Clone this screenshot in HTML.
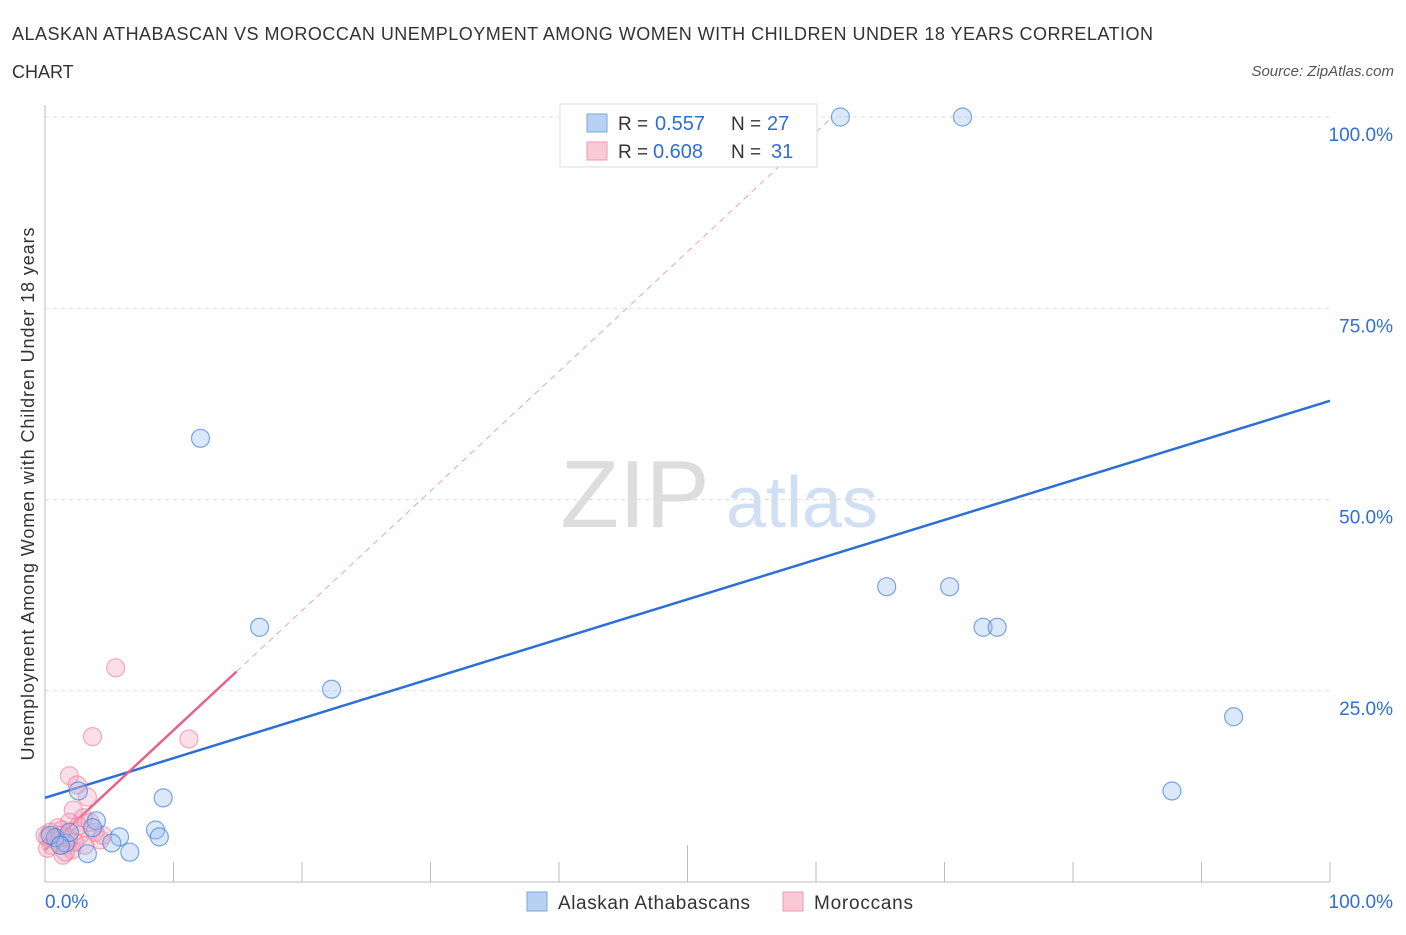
<!DOCTYPE html>
<html><head><meta charset="utf-8"><style>
body{margin:0;background:#fff;font-family:"Liberation Sans",sans-serif;}
svg text{font-family:"Liberation Sans",sans-serif;}
</style></head><body>
<svg width="1406" height="930" viewBox="0 0 1406 930">
<text x="12" y="40" font-size="18" fill="#333" textLength="1141" lengthAdjust="spacing">ALASKAN ATHABASCAN VS MOROCCAN UNEMPLOYMENT AMONG WOMEN WITH CHILDREN UNDER 18 YEARS CORRELATION</text>
<text x="12" y="78" font-size="18" fill="#333">CHART</text>
<text x="1394" y="76" font-size="15" fill="#555" font-style="italic" text-anchor="end">Source: ZipAtlas.com</text>
<g>
<text x="635" y="527" font-size="96" fill="#ddd" font-family="Liberation Serif" text-anchor="middle">ZIP</text>
<text x="802" y="527" font-size="72" fill="#d0dff3" text-anchor="middle">atlas</text>
</g>
<g id="grid"></g>
<g id="axes"></g>
<text transform="translate(34,494) rotate(-90)" font-size="18" fill="#333" textLength="533" lengthAdjust="spacing" text-anchor="middle">Unemployment Among Women with Children Under 18 years</text>
<g id="lines"></g>
<g id="points"></g>
<g>
<rect x="560" y="104" width="257" height="63" fill="#fff" stroke="#ddd"/>
<rect x="587" y="114" width="20" height="18" fill="#b8d1f3" stroke="#7aa6e3"/>
<rect x="587" y="142" width="20" height="18" fill="#f9c9d6" stroke="#ee9ab3"/>
<text x="618" y="130" font-size="19" fill="#333">R =</text>
<text x="655" y="130" font-size="20" fill="#2e6fd6">0.557</text>
<text x="731" y="130" font-size="19" fill="#333">N =</text>
<text x="767" y="130" font-size="20" fill="#2e6fd6">27</text>
<text x="618" y="158" font-size="19" fill="#333">R =</text>
<text x="653" y="158" font-size="20" fill="#2e6fd6">0.608</text>
<text x="731" y="158" font-size="19" fill="#333">N =</text>
<text x="771" y="158" font-size="20" fill="#2e6fd6">31</text>
</g>
<g>
<rect x="527" y="892" width="20" height="19" fill="#b8d1f3" stroke="#7aa6e3"/>
<text x="558" y="909" font-size="19" fill="#333" textLength="192">Alaskan Athabascans</text>
<rect x="783" y="892" width="20" height="19" fill="#f9c9d6" stroke="#ee9ab3"/>
<text x="814" y="909" font-size="19" fill="#333" textLength="99">Moroccans</text>
</g>
</svg>
<script>
const yTicks=[25,50,75,100];
const yTickLabels=["25.0%","50.0%","75.0%","100.0%"];
const xTickLabels=["0.0%","100.0%"];
const blueX=[61.9,71.4,50.0,12.1,16.7,22.3,65.5,70.4,73.0,74.1,92.5,87.7,9.2,2.6,4.0,3.7,8.6,8.9,5.8,5.2,6.6,3.3,1.6,0.8,0.4,1.9,1.2];
const blueY=[100,100,100,58.0,33.3,25.2,38.6,38.6,33.3,33.3,21.6,11.9,11.0,11.9,8.0,7.1,6.8,5.9,5.9,5.1,3.9,3.7,5.1,5.8,6.1,6.5,4.8];
const pinkX=[5.5,3.7,11.2,1.9,2.5,3.3,2.2,3.0,1.9,1.3,0.4,0.8,0.2,1.6,2.1,1.4,2.7,3.9,4.3,1.0,0,0.5,1.8,2.6,3.5,4.5,0.2,2.3,1.2,3.1,1.6];
const pinkY=[28.0,19.0,18.7,13.9,12.7,11.1,9.4,8.4,7.8,6.8,6.5,5.5,5.8,4.8,4.2,3.5,6.1,6.5,5.5,7.1,6.1,4.8,5.8,7.3,7.8,6.1,4.4,5.2,6.1,4.8,3.9];
const blueTrend=[11.0,62.9];
const pinkTrend=[4.2,27.5,14.9];
const NS="http://www.w3.org/2000/svg";
const sx=v=>45+v*12.85, sy=v=>882-v*7.65;
function mk(t,a,p){const e=document.createElementNS(NS,t);for(const k in a)e.setAttribute(k,a[k]);p.appendChild(e);return e;}
const grid=document.getElementById('grid'),axes=document.getElementById('axes'),lines=document.getElementById('lines'),pts=document.getElementById('points');
yTicks.forEach((t,i)=>{
 const l=mk('line',{x1:45,x2:1330,y1:sy(t),y2:sy(t),stroke:'#ddd','stroke-dasharray':'4,4'},grid);
 
 
 const tx=mk('text',{x:1393,y:sy(t)+24,'font-size':19,fill:'#2e6fd6','text-anchor':'end'},grid);
 tx.textContent=yTickLabels[i];
 
 
});
const ax=mk('line',{x1:45,x2:1330,y1:882,y2:882,stroke:'#bbb'},axes);


const ay=mk('line',{x1:45,x2:45,y1:105,y2:882,stroke:'#bbb'},axes);


for(let i=1;i<=10;i++){const x=45+i*128.5;const tk=mk('line',{x1:x,x2:x,y1:i==5?845:862,y2:882,stroke:'#bbb'},axes);
 
 }
xTickLabels.forEach((s,i)=>{const t=mk('text',{x:i?1393:45,y:908,'font-size':19,fill:'#2e6fd6','text-anchor':i?'end':'start'},axes);t.textContent=s;
 
 });
const bl=mk('line',{x1:sx(0),y1:sy(blueTrend[0]),x2:sx(100),y2:sy(blueTrend[1]),stroke:'#2e6fd6','stroke-width':2.5},lines);


const slope=(pinkTrend[1]-pinkTrend[0])/pinkTrend[2];
const xEnd=(100-pinkTrend[0])/slope;
const pd=mk('line',{x1:sx(pinkTrend[2]),y1:sy(pinkTrend[1]),x2:sx(xEnd),y2:sy(100),stroke:'#f0a0b8','stroke-width':1,'stroke-dasharray':'6,5'},lines);


const pl=mk('line',{x1:sx(0),y1:sy(pinkTrend[0]),x2:sx(pinkTrend[2]),y2:sy(pinkTrend[1]),stroke:'#e8608a','stroke-width':2.5},lines);


pinkX.forEach((v,i)=>{const c=mk('circle',{cx:sx(v),cy:sy(pinkY[i]),r:9,fill:'rgba(244,160,186,0.35)',stroke:'rgba(236,120,155,0.6)','stroke-width':1.2},pts);
 
 });
blueX.forEach((v,i)=>{const c=mk('circle',{cx:sx(v),cy:sy(blueY[i]),r:9,fill:'rgba(150,190,240,0.35)',stroke:'rgba(70,130,220,0.7)','stroke-width':1.2},pts);
 
 });
</script>
</body></html>
